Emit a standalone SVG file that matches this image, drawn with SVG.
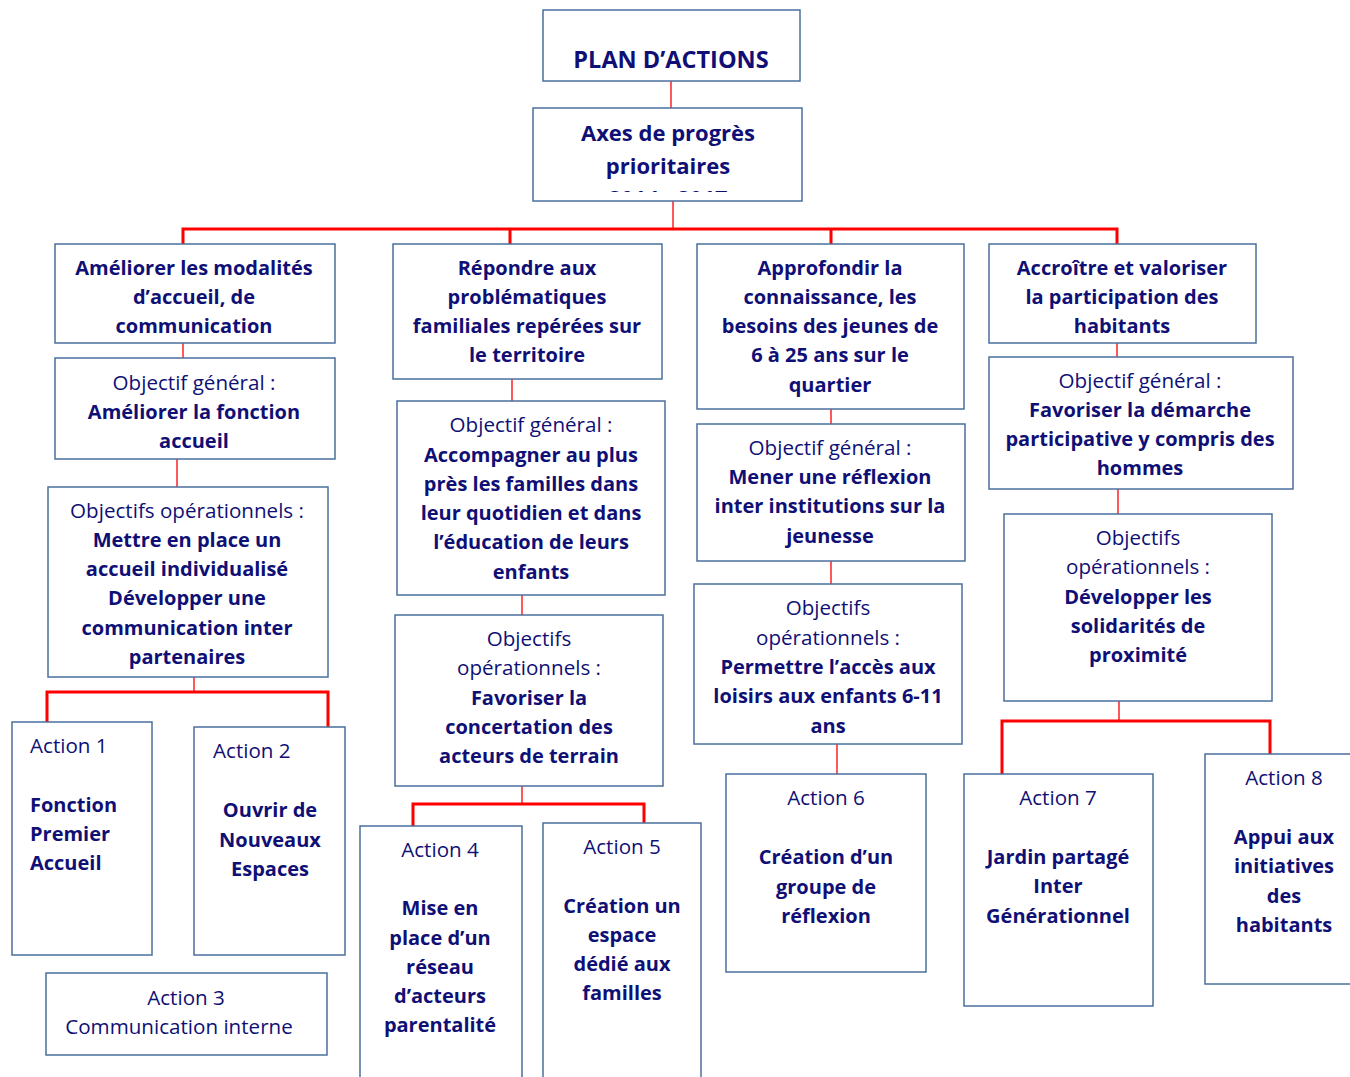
<svg xmlns="http://www.w3.org/2000/svg" width="1350" height="1077" viewBox="0 0 1350 1077">
<style>
.box{fill:#ffffff;stroke:#4a6f9c;stroke-width:1.5}
text{font-family:"Open Sans","Liberation Sans",sans-serif;fill:#0f0f75;font-size:20.6px;text-anchor:middle}
.b{font-weight:bold;font-size:20px}
.l{text-anchor:start}
.t{font-size:23.5px;font-weight:bold}
.v{stroke:#ff2020;stroke-width:1.5;fill:none}
.h{stroke:#ff0000;stroke-width:3;fill:none}
</style>
<defs>
<clipPath id="clipAxes"><rect x="533" y="108" width="269" height="84"/></clipPath>
</defs>
<rect width="1350" height="1077" fill="#ffffff"/>
<g id="connectors">
<path class="v" d="M671 81V108"/>
<path class="v" d="M673 201V229"/>
<path class="h" d="M183 244V229H1117V244M510 229V244M831 229V244"/>
<path class="v" d="M183 343V358"/>
<path class="v" d="M177 459V487"/>
<path class="v" d="M194 677V692"/>
<path class="h" d="M47 722V692H328V727"/>
<path class="v" d="M512 379V401"/>
<path class="v" d="M522 595V615"/>
<path class="v" d="M522 786V804"/>
<path class="h" d="M413 826V804H644V823"/>
<path class="v" d="M831 409V424"/>
<path class="v" d="M831 561V584"/>
<path class="v" d="M837 744V774"/>
<path class="v" d="M1117 343V357"/>
<path class="v" d="M1118 489V514"/>
<path class="v" d="M1119 701V721"/>
<path class="h" d="M1002 774V721H1270V754"/>
</g>
<g id="plan">
<rect class="box" x="543" y="10" width="257" height="71"/>
<text class="t" x="671" y="68">PLAN D’ACTIONS</text>
</g>
<g id="axes">
<rect class="box" x="533" y="108" width="269" height="93"/>
<g clip-path="url(#clipAxes)">
<text class="b" x="668" y="141" style="font-size:22px">Axes de progrès</text>
<text class="b" x="668" y="174" style="font-size:22px">prioritaires</text>
<text class="b" x="668" y="206" style="font-size:22px">2014 - 2017</text>
</g>
</g>
<g id="axe1">
<rect class="box" x="55" y="244" width="280" height="99"/>
<text class="b" x="194" y="275">Améliorer les modalités</text>
<text class="b" x="194" y="304">d’accueil, de</text>
<text class="b" x="194" y="333">communication</text>
</g>
<g id="og1">
<rect class="box" x="55" y="358" width="280" height="101"/>
<text x="194" y="390">Objectif général :</text>
<text class="b" x="194" y="419">Améliorer la fonction</text>
<text class="b" x="194" y="448">accueil</text>
</g>
<g id="oo1">
<rect class="box" x="48" y="487" width="280" height="190"/>
<text x="187" y="518">Objectifs opérationnels :</text>
<text class="b" x="187" y="547">Mettre en place un</text>
<text class="b" x="187" y="576">accueil individualisé</text>
<text class="b" x="187" y="605">Développer une</text>
<text class="b" x="187" y="635">communication inter</text>
<text class="b" x="187" y="664">partenaires</text>
</g>
<g id="action1">
<rect class="box" x="12" y="722" width="140" height="233"/>
<text class="l" x="30" y="753">Action 1</text>
<text class="b l" x="30" y="812">Fonction</text>
<text class="b l" x="30" y="841">Premier</text>
<text class="b l" x="30" y="870">Accueil</text>
</g>
<g id="action2">
<rect class="box" x="194" y="727" width="151" height="228"/>
<text class="l" x="213" y="758">Action 2</text>
<text class="b" x="270" y="817">Ouvrir de</text>
<text class="b" x="270" y="847">Nouveaux</text>
<text class="b" x="270" y="876">Espaces</text>
</g>
<g id="action3">
<rect class="box" x="46" y="973" width="281" height="82"/>
<text x="186" y="1005">Action 3</text>
<text x="179" y="1034">Communication interne</text>
</g>
<g id="axe2">
<rect class="box" x="393" y="244" width="269" height="135"/>
<text class="b" x="527" y="275">Répondre aux</text>
<text class="b" x="527" y="304">problématiques</text>
<text class="b" x="527" y="333">familiales repérées sur</text>
<text class="b" x="527" y="362">le territoire</text>
</g>
<g id="og2">
<rect class="box" x="397" y="401" width="268" height="194"/>
<text x="531" y="432">Objectif général :</text>
<text class="b" x="531" y="462">Accompagner au plus</text>
<text class="b" x="531" y="491">près les familles dans</text>
<text class="b" x="531" y="520">leur quotidien et dans</text>
<text class="b" x="531" y="549">l’éducation de leurs</text>
<text class="b" x="531" y="579">enfants</text>
</g>
<g id="oo2">
<rect class="box" x="395" y="615" width="268" height="171"/>
<text x="529" y="646">Objectifs</text>
<text x="529" y="675">opérationnels :</text>
<text class="b" x="529" y="705">Favoriser la</text>
<text class="b" x="529" y="734">concertation des</text>
<text class="b" x="529" y="763">acteurs de terrain</text>
</g>
<g id="action4">
<rect class="box" x="360" y="826" width="162" height="260"/>
<text x="440" y="857">Action 4</text>
<text class="b" x="440" y="915">Mise en</text>
<text class="b" x="440" y="945">place d’un</text>
<text class="b" x="440" y="974">réseau</text>
<text class="b" x="440" y="1003">d’acteurs</text>
<text class="b" x="440" y="1032">parentalité</text>
</g>
<g id="action5">
<rect class="box" x="543" y="823" width="158" height="263"/>
<text x="622" y="854">Action 5</text>
<text class="b" x="622" y="913">Création un</text>
<text class="b" x="622" y="942">espace</text>
<text class="b" x="622" y="971">dédié aux</text>
<text class="b" x="622" y="1000">familles</text>
</g>
<g id="axe3">
<rect class="box" x="697" y="244" width="267" height="165"/>
<text class="b" x="830" y="275">Approfondir la</text>
<text class="b" x="830" y="304">connaissance, les</text>
<text class="b" x="830" y="333">besoins des jeunes de</text>
<text class="b" x="830" y="362">6 à 25 ans sur le</text>
<text class="b" x="830" y="392">quartier</text>
</g>
<g id="og3">
<rect class="box" x="697" y="424" width="268" height="137"/>
<text x="830" y="455">Objectif général :</text>
<text class="b" x="830" y="484">Mener une réflexion</text>
<text class="b" x="830" y="513">inter institutions sur la</text>
<text class="b" x="830" y="543">jeunesse</text>
</g>
<g id="oo3">
<rect class="box" x="694" y="584" width="268" height="160"/>
<text x="828" y="615">Objectifs</text>
<text x="828" y="645">opérationnels :</text>
<text class="b" x="828" y="674">Permettre l’accès aux</text>
<text class="b" x="828" y="703">loisirs aux enfants 6-11</text>
<text class="b" x="828" y="733">ans</text>
</g>
<g id="action6">
<rect class="box" x="726" y="774" width="200" height="198"/>
<text x="826" y="805">Action 6</text>
<text class="b" x="826" y="864">Création d’un</text>
<text class="b" x="826" y="894">groupe de</text>
<text class="b" x="826" y="923">réflexion</text>
</g>
<g id="axe4">
<rect class="box" x="989" y="244" width="267" height="99"/>
<text class="b" x="1122" y="275">Accroître et valoriser</text>
<text class="b" x="1122" y="304">la participation des</text>
<text class="b" x="1122" y="333">habitants</text>
</g>
<g id="og4">
<rect class="box" x="989" y="357" width="304" height="132"/>
<text x="1140" y="388">Objectif général :</text>
<text class="b" x="1140" y="417">Favoriser la démarche</text>
<text class="b" x="1140" y="446">participative y compris des</text>
<text class="b" x="1140" y="475">hommes</text>
</g>
<g id="oo4">
<rect class="box" x="1004" y="514" width="268" height="187"/>
<text x="1138" y="545">Objectifs</text>
<text x="1138" y="574">opérationnels :</text>
<text class="b" x="1138" y="604">Développer les</text>
<text class="b" x="1138" y="633">solidarités de</text>
<text class="b" x="1138" y="662">proximité</text>
</g>
<g id="action7">
<rect class="box" x="964" y="774" width="189" height="232"/>
<text x="1058" y="805">Action 7</text>
<text class="b" x="1058" y="864">Jardin partagé</text>
<text class="b" x="1058" y="893">Inter</text>
<text class="b" x="1058" y="923">Générationnel</text>
</g>
<g id="action8">
<rect class="box" x="1205" y="754" width="160" height="230"/>
<text x="1284" y="785">Action 8</text>
<text class="b" x="1284" y="844">Appui aux</text>
<text class="b" x="1284" y="873">initiatives</text>
<text class="b" x="1284" y="903">des</text>
<text class="b" x="1284" y="932">habitants</text>
</g>
</svg>
